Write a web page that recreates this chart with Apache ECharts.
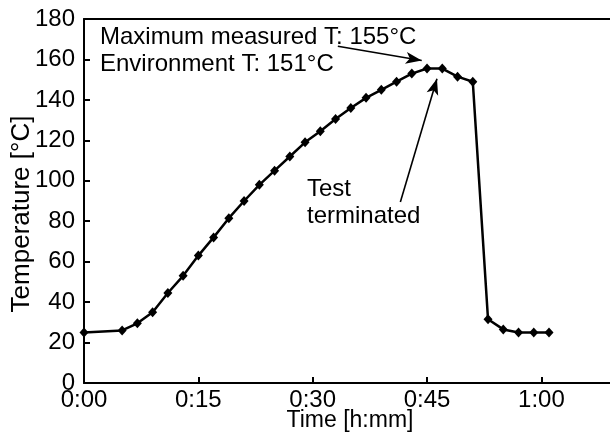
<!DOCTYPE html>
<html><head><meta charset="utf-8">
<script src="https://cdn.jsdelivr.net/npm/echarts@6/dist/echarts.min.js"></script>
<style>html,body{margin:0;padding:0;background:#fff;}#c{width:610px;height:434px;}</style>
</head><body><div id="c"></div>
<script>
const times = [0,5,7,9,11,13,15,17,19,21,23,25,27,29,31,33,35,37,39,41,43,45,47,49,51,53,55,57,59,61];
const temps = [25,26,29.5,35,44.5,53,63,72,81.5,90,98,105,112,119,124.5,130.5,136,141,145,149,153,155.5,155.5,151.5,149,31.5,26.5,25,25,25];
const yTicks = [0,20,40,60,80,100,120,140,160,180];
const xTickMinutes = [0,15,30,45,60];
const annText1 = 'Maximum measured T: 155°C';
const annText2 = 'Environment T: 151°C';
const annText3 = 'Test';
const annText4 = 'terminated';
const arrow1 = [[33.3,166.5],[44.3,159.5]];
const arrow2 = [[41.5,89.5],[46.3,150.5]];

const FONT = 'Liberation Sans, Arial, sans-serif';
const chart = echarts.init(document.getElementById('c'), null, {renderer:'canvas'});
const pts = times.map((t,i)=>[t,temps[i]]);
function fmt(v){const h=Math.floor(v/60), m=v%60; return h+':'+(m<10?'0':'')+m;}
chart.setOption({
  animation:false,
  backgroundColor:'#fff',
  grid:{left:84, top:19, bottom:51, right:0},
  xAxis:[{type:'value', min:0, max:69, interval:15,
    axisLine:{lineStyle:{color:'#000', width:2}},
    axisTick:{inside:true, length:6, customValues:xTickMinutes, lineStyle:{color:'#000', width:2}},
    axisLabel:{color:'#000', fontSize:24, fontFamily:FONT, margin:5, customValues:xTickMinutes,
      formatter:v=> xTickMinutes.indexOf(v)>=0 ? fmt(v) : ''},
    splitLine:{show:false}},
   {type:'value', position:'top', min:0, max:69,
    axisLine:{show:true, lineStyle:{color:'#000', width:2}},
    axisTick:{show:false}, axisLabel:{show:false}, splitLine:{show:false}}],
  yAxis:{type:'value', min:0, max:180, interval:20,
    axisLine:{show:true, lineStyle:{color:'#000', width:2}},
    axisTick:{show:true, inside:true, length:6, lineStyle:{color:'#000', width:2}},
    axisLabel:{color:'#000', fontSize:24, fontFamily:FONT, margin:9,
      formatter:v=> yTicks.indexOf(v)>=0 ? String(v) : ''},
    splitLine:{show:false}},
  graphic:[
    {type:'text', left:100, top:25, style:{text:annText1, font:'24px '+FONT, fill:'#000'}},
    {type:'text', left:100, top:52, style:{text:annText2, font:'24px '+FONT, fill:'#000'}},
    {type:'text', left:307, top:177, style:{text:annText3, font:'24px '+FONT, fill:'#000'}},
    {type:'text', left:307, top:204, style:{text:annText4, font:'24px '+FONT, fill:'#000'}},
    {type:'text', style:{text:'Time [h:mm]', font:'23px '+FONT, fill:'#000', textAlign:'center', textVerticalAlign:'middle'}, x:350, y:421},
    {type:'text', style:{text:'Temperature [°C]', font:'26px '+FONT, fill:'#000', textAlign:'center', textVerticalAlign:'middle'}, x:22, y:214, rotation:Math.PI/2}
  ],
  series:[{
    type:'line', data:pts, xAxisIndex:0, symbol:'diamond', symbolSize:[9,10],
    itemStyle:{color:'#000'}, lineStyle:{color:'#000', width:2.5},
    markLine:{silent:true, symbol:['none','arrow'], symbolSize:[9,16], label:{show:false},
      lineStyle:{color:'#000', width:1.6, type:'solid'},
      data:[[{coord:arrow1[0]},{coord:arrow1[1]}],[{coord:arrow2[0]},{coord:arrow2[1]}]]}
  }]
});
</script></body></html>
